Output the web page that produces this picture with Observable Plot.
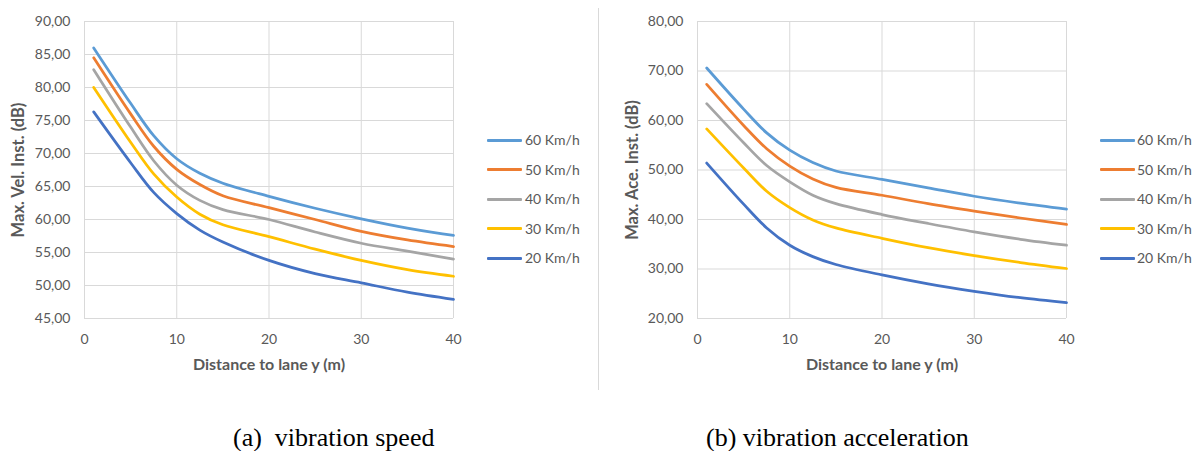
<!DOCTYPE html>
<html>
<head>
<meta charset="utf-8">
<script src="https://cdn.jsdelivr.net/npm/d3@7"></script>
<script src="https://cdn.jsdelivr.net/npm/@observablehq/plot@0.6"></script>
<style>
  html, body { margin: 0; padding: 0; background: #fff; }
  #page { position: relative; width: 1199px; height: 451px; overflow: hidden; background: #fff; }
  .chart { position: absolute; top: 0; }
  .legend { position: absolute; left: 0; top: 0; font-family: Lato, "Open Sans", sans-serif; font-size: 14px; color: #595959; }
  .legend .sw { position: absolute; height: 3px; width: 35px; border-radius: 1px; }
  .legend .lb { position: absolute; line-height: 16px; white-space: nowrap; }
  .caption { position: absolute; font-family: "Liberation Serif", "Times New Roman", serif; font-size: 26px; color: #000; white-space: pre; line-height: 30px; }
  #sep { position: absolute; left: 598px; top: 8px; width: 1px; height: 382px; background: #d9d9d9; }
</style>
</head>
<body>
<div id="page">
  <div id="left" class="chart" style="left:0px"></div>
  <div id="right" class="chart" style="left:600px"></div>
  <div id="sep"></div>
  <div id="legL" class="legend"></div>
  <div id="legR" class="legend"></div>
  <div class="caption" style="left:233px; top:423px">(a)  vibration speed</div>
  <div class="caption" style="left:706px; top:423px">(b) vibration acceleration</div>
</div>
<script>
// ---- data ----
const distances = [1, 5, 7.5, 10, 12.5, 15, 20, 25, 30, 35, 40];
const seriesNames = ["60 Km/h", "50 Km/h", "40 Km/h", "30 Km/h", "20 Km/h"];
const seriesColors = ["#5B9BD5", "#ED7D31", "#A5A5A5", "#FFC000", "#4472C4"];

// vibration speed (dB)
const vel60 = [86.0, 77.6, 72.7, 69.2, 67.0, 65.5, 63.5, 61.7, 60.1, 58.7, 57.6];
const vel50 = [84.5, 76.0, 71.1, 67.6, 65.3, 63.6, 61.8, 60.0, 58.2, 56.9, 55.9];
const vel40 = [82.7, 74.0, 68.9, 65.2, 62.9, 61.5, 60.0, 58.1, 56.4, 55.2, 54.0];
const vel30 = [80.0, 71.7, 66.9, 63.4, 60.8, 59.2, 57.4, 55.5, 53.8, 52.4, 51.4];
const vel20 = [76.3, 68.6, 64.1, 60.9, 58.4, 56.6, 53.8, 51.8, 50.4, 49.0, 47.9];

// vibration acceleration (dB)
const acc60 = [70.6, 62.3, 57.5, 54.0, 51.5, 49.8, 48.1, 46.4, 44.7, 43.3, 42.1];
const acc50 = [67.3, 59.0, 54.3, 50.8, 48.2, 46.5, 44.9, 43.2, 41.7, 40.3, 39.0];
const acc40 = [63.4, 55.5, 50.9, 47.6, 44.9, 43.2, 41.0, 39.2, 37.5, 36.0, 34.8];
const acc30 = [58.3, 50.4, 45.7, 42.4, 39.9, 38.3, 36.2, 34.3, 32.7, 31.3, 30.1];
const acc20 = [51.4, 43.1, 38.3, 34.8, 32.5, 30.9, 28.8, 27.0, 25.5, 24.2, 23.2];

const xTicks = [0, 10, 20, 30, 40];
const velTicks = [45, 50, 55, 60, 65, 70, 75, 80, 85, 90];
const accTicks = [20, 30, 40, 50, 60, 70, 80];
const xLabel = "Distance to lane y (m)";
const velLabel = "Max. Vel. Inst. (dB)";
const accLabel = "Max. Ace. Inst. (dB)";

// ---- chart builder ----
function makeChart(seriesValues, yTicks, yLabel, marginLeft, marginRight, titleDx) {
  const data = seriesNames.flatMap((name, i) =>
    distances.map((d, j) => ({ x: d, y: seriesValues[i][j], s: name })));
  const grid = "#d9d9d9";
  return Plot.plot({
    width: 480,
    height: 380,
    marginLeft, marginRight,
    marginTop: 21,
    marginBottom: 62,
    style: { fontFamily: "Lato, 'Open Sans', sans-serif", fontSize: "14px", color: "#595959", background: "transparent" },
    x: { domain: [0, 40] },
    y: { domain: [yTicks[0], yTicks[yTicks.length - 1]] },
    color: { domain: seriesNames, range: seriesColors },
    marks: [
      Plot.ruleY(yTicks, { y: d => d, stroke: grid, strokeWidth: 1 }),
      Plot.ruleX(xTicks, { x: d => d, stroke: grid, strokeWidth: 1 }),
      Plot.axisX({ ticks: xTicks, tickSize: 0, tickPadding: 16, label: null, fill: "#595959" }),
      Plot.axisY({ ticks: yTicks, tickSize: 0, tickPadding: 14, label: null, fill: "#595959",
        tickFormat: d => d.toFixed(2).replace(".", ",") }),
      Plot.line(data, { x: "x", y: "y", z: "s", stroke: "s", curve: "catmull-rom",
        strokeWidth: 2.75, strokeLinecap: "round", strokeLinejoin: "round" }),
      Plot.text([xLabel], { text: d => d, frameAnchor: "bottom", dy: 46, lineAnchor: "middle", textAnchor: "middle",
        fontWeight: "bold", fill: "#595959", fontSize: 16 }),
      Plot.text([yLabel], { text: d => d, frameAnchor: "left", dx: titleDx, rotate: -90, lineAnchor: "middle", textAnchor: "middle",
        fontWeight: "bold", fill: "#595959", fontSize: 16.5 })
    ]
  });
}

document.getElementById("left").append(
  makeChart([vel60, vel50, vel40, vel30, vel20], velTicks, velLabel, 84, 27, -66));
document.getElementById("right").append(
  makeChart([acc60, acc50, acc40, acc30, acc20], accTicks, accLabel, 97, 14, -65));

// ---- legends ----
const legendYs = [140, 169.5, 199, 228.5, 258];
function makeLegend(el, swLeft, textLeft) {
  seriesNames.forEach((name, i) => {
    const sw = document.createElement("div");
    sw.className = "sw";
    sw.style.left = swLeft + "px";
    sw.style.top = (legendYs[i] - 1.5) + "px";
    sw.style.background = seriesColors[i];
    el.append(sw);
    const lb = document.createElement("div");
    lb.className = "lb";
    lb.style.left = textLeft + "px";
    lb.style.top = (legendYs[i] - 8) + "px";
    lb.textContent = name;
    el.append(lb);
  });
}
makeLegend(document.getElementById("legL"), 487, 525);
makeLegend(document.getElementById("legR"), 1100, 1137);
</script>
</body>
</html>
